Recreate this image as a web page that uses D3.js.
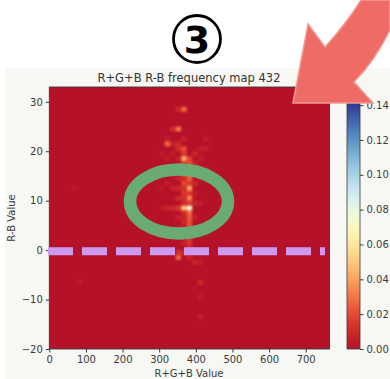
<!DOCTYPE html>
<html>
<head>
<meta charset="utf-8">
<script src="https://cdn.jsdelivr.net/npm/d3@7"></script>
<style>
  html, body { margin: 0; padding: 0; background: #ffffff; }
  svg { display: block; font-family: "DejaVu Sans", sans-serif; }
</style>
</head>
<body>
<svg id="chart" width="390" height="379"></svg>
<script>
// 2D histogram of R+G+B (x) against R-B (y); bins are 15 wide in x, 1 tall in y.
const xDomain = [0, 765];
const yDomain = [-20, 33];
const xBinWidth = 15;
const yBinHeight = 1;
const colorMax = 0.1415;

const xTicks = [0, 100, 200, 300, 400, 500, 600, 700];
const yTicks = [-20, -10, 0, 10, 20, 30];
const colorTicks = [0.00, 0.02, 0.04, 0.06, 0.08, 0.10, 0.12, 0.14];

// Non-zero cells: bin start on x, bin start on y, relative frequency
const cellX = [
  375,375,375,375,375,375,375,375,375,375,375,375,375,375,375,375,375,375,375,375,375,
  360,360,360,360,360,360,360,360,360,360,360,360,360,360,360,360,360,360,360,360,360,
  345,345,345,345,345,345,345,345,345,345,345,345,345,345,
  330,330,330,330,330,330,
  315,315,315,315,315,
  300,300,300,
  390,390,390,390,390,390,390,390,
  405,405,405,405,405,405,405,405,
  420,420,420,
  60,75
];
const cellY = [
  18,17,16,15,14,13,12,11,10,9,8,7,6,5,4,3,2,1,0,-1,-2,
  28,22,20,19,18,17,16,15,14,13,12,11,10,9,8,7,6,5,3,1,-1,
  28,24,21,20,18,16,14,12,10,8,6,4,-2,-1,
  24,21,19,15,12,8,
  21,22,18,13,8,
  19,12,8,
  19,17,15,13,11,9,6,-3,
  20,18,14,9,-3,-7,-10,-14,
  22,20,16,
  12,-7
];
const cellV = [
  0.018,0.022,0.016,0.022,0.026,0.016,0.042,0.016,0.034,0.016,0.075,0.028,0.024,0.022,0.026,0.022,0.016,0.014,0.012,0.010,0.008,
  0.028,0.008,0.022,0.016,0.042,0.016,0.014,0.026,0.012,0.020,0.012,0.016,0.012,0.010,0.050,0.010,0.008,0.010,0.006,0.008,0.010,
  0.010,0.030,0.010,0.012,0.008,0.010,0.008,0.010,0.012,0.016,0.008,0.006,0.026,0.012,
  0.012,0.008,0.006,0.008,0.008,0.010,
  0.028,0.006,0.006,0.006,0.008,
  0.004,0.004,0.005,
  0.010,0.008,0.008,0.010,0.006,0.008,0.006,0.008,
  0.006,0.006,0.005,0.005,0.006,0.010,0.006,0.006,
  0.005,0.005,0.004,
  0.004,0.004
];

const svg = d3.select("#chart");

// figure canvas
svg.append("rect")
  .attr("x", 5).attr("y", 68).attr("width", 385).attr("height", 311)
  .attr("fill", "#f7f8f4");

const plot = { left: 49.3, right: 329.5, top: 87, bottom: 349 };

const x = d3.scaleLinear().domain(xDomain).range([plot.left, plot.right]);
const y = d3.scaleLinear().domain(yDomain).range([plot.bottom, plot.top]);

// RdYlBu ramp, low end tuned to the rendered crimson
const palette = d3.schemeRdYlBu[11].slice();
palette[0] = "#b5122a";
const ramp = d3.interpolateRgbBasis(palette);
const color = d3.scaleSequential(ramp).domain([0, colorMax]);

// empty bins
svg.append("rect")
  .attr("x", plot.left).attr("y", plot.top)
  .attr("width", plot.right - plot.left).attr("height", plot.bottom - plot.top)
  .attr("fill", color(0));

const cells = cellX.map((cx, i) => ({ x: cx, y: cellY[i], v: cellV[i] }));
svg.append("g")
  .style("filter", "blur(0.8px)")
  .selectAll("rect")
  .data(cells)
  .join("rect")
  .attr("x", d => x(d.x))
  .attr("y", d => y(d.y + yBinHeight))
  .attr("width", d => x(d.x + xBinWidth) - x(d.x))
  .attr("height", d => y(d.y) - y(d.y + yBinHeight))
  .attr("fill", d => color(d.v));

// frame
svg.append("rect")
  .attr("x", plot.left).attr("y", plot.top)
  .attr("width", plot.right - plot.left).attr("height", plot.bottom - plot.top)
  .attr("fill", "none").attr("stroke", "#3a3a3a").attr("stroke-width", 0.9);

const fmtMinus = d => String(d).replace("-", "\u2212");

const xAxis = svg.append("g")
  .attr("transform", `translate(0,${plot.bottom})`)
  .call(d3.axisBottom(x).tickValues(xTicks).tickSize(3.5).tickPadding(3).tickFormat(fmtMinus));
const yAxis = svg.append("g")
  .attr("transform", `translate(${plot.left},0)`)
  .call(d3.axisLeft(y).tickValues(yTicks).tickSize(3.5).tickPadding(3).tickFormat(fmtMinus));
[xAxis, yAxis].forEach(g => {
  g.select(".domain").remove();
  g.selectAll("line").attr("stroke", "#3a3a3a");
  g.selectAll("text").attr("fill", "#3a3a3a").style("font-size", "10px").style("font-family", "DejaVu Sans");
});

// titles
svg.append("text")
  .attr("x", 189).attr("y", 81.5).attr("text-anchor", "middle")
  .style("font-size", "11.5px").attr("fill", "#333")
  .text("R+G+B R-B frequency map 432");
svg.append("text")
  .attr("x", 189).attr("y", 377).attr("text-anchor", "middle")
  .style("font-size", "10px").attr("fill", "#3a3a3a")
  .text("R+G+B Value");
svg.append("text")
  .attr("transform", `translate(15,${(plot.top + plot.bottom) / 2}) rotate(-90)`)
  .attr("text-anchor", "middle")
  .style("font-size", "10px").attr("fill", "#3a3a3a")
  .text("R-B Value");

// colour bar
const cb = { x: 347, w: 13 };
const cy = d3.scaleLinear().domain([0, colorMax]).range([plot.bottom, 102.5]);
const defs = svg.append("defs");
const grad = defs.append("linearGradient")
  .attr("id", "cbgrad").attr("x1", 0).attr("y1", 1).attr("x2", 0).attr("y2", 0);
d3.range(0, 1.0001, 0.05).forEach(t => {
  grad.append("stop").attr("offset", t).attr("stop-color", ramp(t));
});
svg.append("rect")
  .attr("x", cb.x).attr("y", cy(colorMax))
  .attr("width", cb.w).attr("height", cy(0) - cy(colorMax))
  .attr("fill", "url(#cbgrad)")
  .attr("stroke", "#3a3a3a").attr("stroke-width", 0.8);
const cAxis = svg.append("g")
  .attr("transform", `translate(${cb.x + cb.w},0)`)
  .call(d3.axisRight(cy).tickValues(colorTicks).tickSize(3.5).tickPadding(3).tickFormat(d3.format(".2f")));
cAxis.select(".domain").remove();
cAxis.selectAll("line").attr("stroke", "#3a3a3a");
cAxis.selectAll("text").attr("fill", "#3a3a3a").style("font-size", "10px").style("font-family", "DejaVu Sans");

// annotations: dashed zero line and ring around the dense cluster
svg.append("line")
  .attr("x1", 48).attr("x2", 325)
  .attr("y1", y(0) + 1).attr("y2", y(0) + 1)
  .attr("stroke", "#cc99ee").attr("stroke-width", 8)
  .attr("stroke-dasharray", "25 9");
svg.append("ellipse")
  .attr("cx", 179).attr("cy", 201.5).attr("rx", 49).attr("ry", 32)
  .attr("fill", "none").attr("stroke", "#6aab74").attr("stroke-width", 12.5);

// curved pointer arrow
svg.append("path")
  .attr("d", "M308,24 L325,47 Q346,24 361,0 L390,0 L390,30 Q374,62 354,82 L373,103 L293,103 Z")
  .attr("fill", "#ef6b65").attr("stroke", "#f39a94").attr("stroke-width", 1.5)
  .attr("stroke-linejoin", "miter");

// step marker
svg.append("circle")
  .attr("cx", 197).attr("cy", 39).attr("r", 23.5)
  .attr("fill", "none").attr("stroke", "#000").attr("stroke-width", 2.8);
svg.append("text")
  .attr("x", 197).attr("y", 52.5).attr("text-anchor", "middle")
  .style("font-size", "38px").style("font-weight", "bold").attr("fill", "#000")
  .text("3");
</script>
</body>
</html>
